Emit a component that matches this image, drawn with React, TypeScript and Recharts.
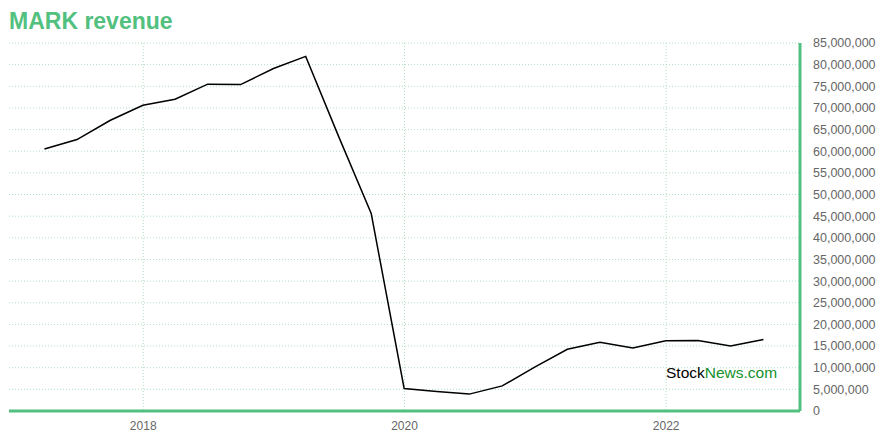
import { LineChart, Line, XAxis, YAxis, CartesianGrid } from "recharts";

// quarter-end report dates and revenue (USD)
const quarterDates = [
  "2017-03-31", "2017-06-30", "2017-09-30", "2017-12-31",
  "2018-03-31", "2018-06-30", "2018-09-30", "2018-12-31",
  "2019-03-31", "2019-06-30", "2019-09-30", "2019-12-31",
  "2020-03-31", "2020-06-30", "2020-09-30", "2020-12-31",
  "2021-03-31", "2021-06-30", "2021-09-30", "2021-12-31",
  "2022-03-31", "2022-06-30", "2022-09-30",
];

const revenue = [
  60500000, 62700000, 67100000, 70600000,
  72000000, 75500000, 75400000, 79100000,
  81900000, 63600000, 45600000, 5200000,
  4500000, 3900000, 5800000, 10200000,
  14250000, 15900000, 14550000, 16200000,
  16300000, 15000000, 16500000,
];

const yTicks = [
  0, 5000000, 10000000, 15000000, 20000000, 25000000, 30000000, 35000000,
  40000000, 45000000, 50000000, 55000000, 60000000, 65000000, 70000000,
  75000000, 80000000, 85000000,
];

const yearTicks = ["2018-01-01", "2020-01-01", "2022-01-01"];

const ts = (d: string) => Date.parse(d + "T00:00:00Z");

const data = quarterDates.map((d, i) => ({ date: ts(d), revenue: revenue[i] }));

const GREEN = "#52c07f";
const GRID = "#aee2c3";

export default function App() {
  return (
    <div style={{ position: "absolute", left: 0, top: 0, width: 880, height: 440, fontFamily: "Arial, 'Liberation Sans', sans-serif" }}>
      <div
        style={{
          position: "absolute",
          left: 9,
          top: 6,
          fontSize: 23,
          fontWeight: "bold",
          color: GREEN,
          lineHeight: "30px",
        }}
      >
        MARK revenue
      </div>
      <LineChart
        width={880}
        height={440}
        data={data}
        margin={{ top: 43, right: 0, bottom: 0, left: 9 }}
      >
        <CartesianGrid
          stroke={GRID}
          strokeDasharray="1 2"
          verticalValues={yearTicks.map(ts)}
        />
        <XAxis
          dataKey="date"
          type="number"
          scale="time"
          domain={[ts("2016-12-22"), ts("2023-01-10")]}
          ticks={yearTicks.map(ts)}
          tickFormatter={(v: number) => String(new Date(v).getUTCFullYear())}
          height={29}
          axisLine={{ stroke: GREEN, strokeWidth: 3 }}
          tickLine={false}
          tick={{ fill: "#666", fontSize: 12 }}
          tickMargin={4}
        />
        <YAxis
          orientation="right"
          width={80}
          domain={[0, 85000000]}
          ticks={yTicks}
          interval={0}
          tickFormatter={(v: number) => v.toLocaleString("en-US")}
          axisLine={{ stroke: GREEN, strokeWidth: 3 }}
          tickLine={false}
          tick={{ fill: "#666", fontSize: 12.5, textAnchor: "start" }}
          tickMargin={7}
        />
        <Line
          type="linear"
          dataKey="revenue"
          stroke="#000"
          strokeWidth={1.5}
          dot={false}
          isAnimationActive={false}
        />
      </LineChart>
      <div
        style={{
          position: "absolute",
          left: 666,
          top: 364,
          fontSize: 15.5,
          lineHeight: "18px",
        }}
      >
        <span style={{ color: "#000" }}>Stock</span>
        <span style={{ color: "#16902c" }}>News.com</span>
      </div>
    </div>
  );
}
